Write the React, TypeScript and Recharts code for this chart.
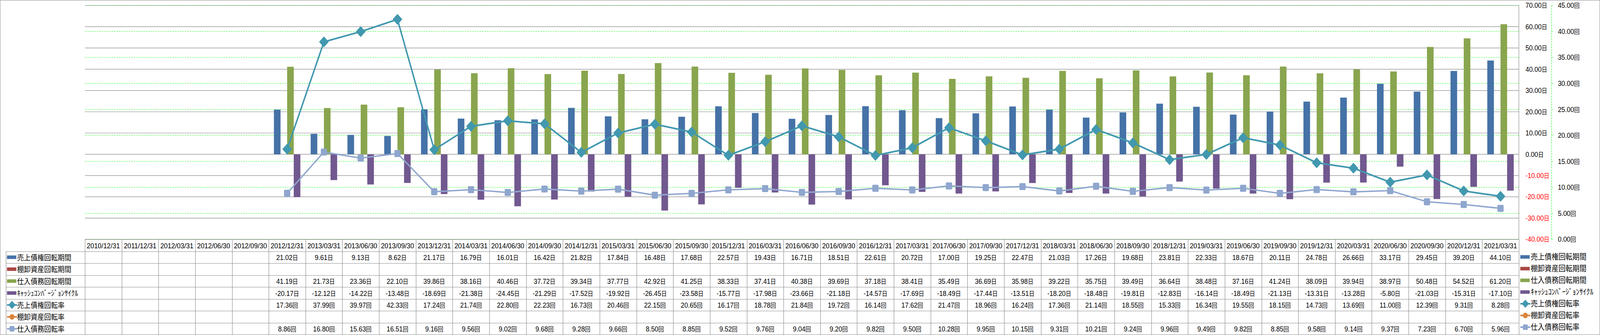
import React from 'react';
import { ComposedChart, Bar, Line, XAxis, YAxis, CartesianGrid, Legend } from 'recharts';

const DATES = [
  '2010/12/31', '2011/12/31', '2012/03/31', '2012/06/30', '2012/09/30', '2012/12/31',
  '2013/03/31', '2013/06/30', '2013/09/30', '2013/12/31',
  '2014/03/31', '2014/06/30', '2014/09/30', '2014/12/31',
  '2015/03/31', '2015/06/30', '2015/09/30', '2015/12/31',
  '2016/03/31', '2016/06/30', '2016/09/30', '2016/12/31',
  '2017/03/31', '2017/06/30', '2017/09/30', '2017/12/31',
  '2018/03/31', '2018/06/30', '2018/09/30', '2018/12/31',
  '2019/03/31', '2019/06/30', '2019/09/30', '2019/12/31',
  '2020/03/31', '2020/06/30', '2020/09/30', '2020/12/31',
  '2021/03/31',
];

const N = null;

const RECEIVABLE_DAYS = [
  N, N, N, N, N, 21.02,
  9.61, 9.13, 8.62, 21.17,
  16.79, 16.01, 16.42, 21.82,
  17.84, 16.48, 17.68, 22.57,
  19.43, 16.71, 18.51, 22.61,
  20.72, 17.0, 19.25, 22.47,
  21.03, 17.26, 19.68, 23.81,
  22.33, 18.67, 20.11, 24.78,
  26.66, 33.17, 29.45, 39.2,
  44.1,
];

const INVENTORY_DAYS: (number | null)[] = DATES.map(() => null);

const PAYABLE_DAYS = [
  N, N, N, N, N, 41.19,
  21.73, 23.36, 22.1, 39.86,
  38.16, 40.46, 37.72, 39.34,
  37.77, 42.92, 41.25, 38.33,
  37.41, 40.38, 39.69, 37.18,
  38.41, 35.49, 36.69, 35.98,
  39.22, 35.75, 39.49, 36.64,
  38.48, 37.16, 41.24, 38.09,
  39.94, 38.97, 50.48, 54.52,
  61.2,
];

const CCC_DAYS = [
  N, N, N, N, N, -20.17,
  -12.12, -14.22, -13.48, -18.69,
  -21.38, -24.45, -21.29, -17.52,
  -19.92, -26.45, -23.58, -15.77,
  -17.98, -23.66, -21.18, -14.57,
  -17.69, -18.49, -17.44, -13.51,
  -18.2, -18.48, -19.81, -12.83,
  -16.14, -18.49, -21.13, -13.31,
  -13.28, -5.8, -21.03, -15.31,
  -17.1,
];

const RECEIVABLE_TURNOVER = [
  N, N, N, N, N, 17.36,
  37.99, 39.97, 42.33, 17.24,
  21.74, 22.8, 22.23, 16.73,
  20.46, 22.15, 20.65, 16.17,
  18.78, 21.84, 19.72, 16.14,
  17.62, 21.47, 18.96, 16.24,
  17.36, 21.14, 18.55, 15.33,
  16.34, 19.55, 18.15, 14.73,
  13.69, 11.0, 12.39, 9.31,
  8.28,
];

const INVENTORY_TURNOVER: (number | null)[] = DATES.map(() => null);

const PAYABLE_TURNOVER = [
  N, N, N, N, N, 8.86,
  16.8, 15.63, 16.51, 9.16,
  9.56, 9.02, 9.68, 9.28,
  9.66, 8.5, 8.85, 9.52,
  9.76, 9.04, 9.2, 9.82,
  9.5, 10.28, 9.95, 10.15,
  9.31, 10.21, 9.24, 9.96,
  9.49, 9.82, 8.85, 9.58,
  9.14, 9.37, 7.23, 6.7,
  5.96,
];

const DAY_TICKS = [-40, -30, -20, -10, 0, 10, 20, 30, 40, 50, 60, 70];
const RATE_TICKS = [0, 5, 10, 15, 20, 25, 30, 35, 40, 45];

type Series = {
  key: string;
  name: string;
  kind: 'bar' | 'line';
  marker?: 'diamond' | 'circle' | 'square';
  color: string;
  unit: string;
  values: (number | null)[];
};

const SERIES: Series[] = [
  { key: 'arDays', name: '売上債権回転期間', kind: 'bar', color: '#4572A7', unit: '日', values: RECEIVABLE_DAYS },
  { key: 'invDays', name: '棚卸資産回転期間', kind: 'bar', color: '#AA4643', unit: '日', values: INVENTORY_DAYS },
  { key: 'apDays', name: '仕入債務回転期間', kind: 'bar', color: '#89A54E', unit: '日', values: PAYABLE_DAYS },
  { key: 'ccc', name: 'ｷｬｯｼｭｺﾝﾊﾞｰｼﾞｮﾝｻｲｸﾙ', kind: 'bar', color: '#71588F', unit: '日', values: CCC_DAYS },
  { key: 'arRate', name: '売上債権回転率', kind: 'line', marker: 'diamond', color: '#4198AF', unit: '回', values: RECEIVABLE_TURNOVER },
  { key: 'invRate', name: '棚卸資産回転率', kind: 'line', marker: 'circle', color: '#DB843D', unit: '回', values: INVENTORY_TURNOVER },
  { key: 'apRate', name: '仕入債務回転率', kind: 'line', marker: 'square', color: '#8FA6CE', unit: '回', values: PAYABLE_TURNOVER },
];

const DATA = DATES.map((date, i) => {
  const row: Record<string, any> = { date };
  SERIES.forEach((s) => {
    row[s.key] = s.values[i];
  });
  return row;
});

const FONT = "'Liberation Sans', 'Noto Sans CJK JP', sans-serif";
const GRID = '#868686';
const ROW_H = 30.55;
const LEGEND_COL_W = 227.5;

const px = (v: number) => Math.round(v) + 0.5;

function MarkerShape({ shape, cx, cy, color, size }: { shape?: string; cx: number; cy: number; color: string; size: number }) {
  if (shape === 'diamond') {
    const h = size;
    return (
      <polygon
        points={`${cx},${cy - h} ${cx + h},${cy} ${cx},${cy + h} ${cx - h},${cy}`}
        fill={color}
        stroke={color}
        strokeWidth={2}
        strokeLinejoin="round"
      />
    );
  }
  if (shape === 'circle') {
    return <circle cx={cx} cy={cy} r={size * 0.8} fill={color} />;
  }
  const s = size * 0.78;
  return <rect x={cx - s} y={cy - s} width={s * 2} height={s * 2} rx={3} ry={3} fill={color} />;
}

function LegendIcon({ s, x, y }: { s: Series; x: number; y: number }) {
  if (s.kind === 'bar') {
    return <rect x={x} y={y - 4.5} width={27} height={9} fill={s.color} />;
  }
  return (
    <g>
      <line x1={x} x2={x + 29} y1={y} y2={y} stroke={s.color} strokeWidth={4} />
      <MarkerShape shape={s.marker} cx={x + 14.5} cy={y} color={s.color} size={9} />
    </g>
  );
}

const makeDot = (s: Series, size: number) => (p: any) => {
  const { cx, cy, index } = p;
  if (typeof cx !== 'number' || typeof cy !== 'number' || isNaN(cy) || p.value == null) {
    return <g key={`dot-${s.key}-${index}`} />;
  }
  return (
    <g key={`dot-${s.key}-${index}`}>
      <MarkerShape shape={s.marker} cx={cx} cy={cy} color={s.color} size={size} />
    </g>
  );
};

function TableTick(props: any) {
  const { x, y, payload, width, visibleTicksCount } = props;
  const i: number = payload?.index ?? props.index ?? 0;
  const half =
    typeof payload?.offset === 'number' && payload.offset > 0 ? payload.offset : width / visibleTicksCount / 2;
  const left = x - half;
  const right = x + half;
  const top = y;
  const rows = SERIES.length;
  const bottom = top + (rows + 1) * ROW_H;
  const els: React.ReactNode[] = [];

  for (let k = 0; k <= rows + 1; k++) {
    const yy = px(top + k * ROW_H);
    els.push(<line key={`h${k}`} x1={left} x2={right} y1={yy} y2={yy} stroke={GRID} strokeWidth={1} />);
  }
  els.push(<line key="vr" x1={px(right)} x2={px(right)} y1={px(top)} y2={px(bottom)} stroke={GRID} strokeWidth={1.2} />);
  if (i === 0) {
    els.push(<line key="vl" x1={px(left)} x2={px(left)} y1={px(top)} y2={px(bottom)} stroke={GRID} strokeWidth={1.2} />);
    const colLeft = left - LEGEND_COL_W;
    for (let k = 1; k <= rows + 1; k++) {
      const yy = px(top + k * ROW_H);
      els.push(<line key={`lh${k}`} x1={colLeft} x2={left} y1={yy} y2={yy} stroke={GRID} strokeWidth={1} />);
    }
    els.push(
      <line key="lv" x1={px(colLeft)} x2={px(colLeft)} y1={px(top + ROW_H)} y2={px(bottom)} stroke={GRID} strokeWidth={1.2} />
    );
    SERIES.forEach((s, r) => {
      const cy = top + (r + 1.5) * ROW_H;
      els.push(
        <g key={`lg${r}`}>
          <LegendIcon s={s} x={colLeft + 3.5} y={cy} />
          <text x={colLeft + 32.5} y={cy + 1} dominantBaseline="central" fontFamily={FONT} fontSize={19.5} fill="#000">
            {s.name}
          </text>
        </g>
      );
    });
  }

  els.push(
    <text key="hd" x={x} y={top + ROW_H / 2 + 1} textAnchor="middle" dominantBaseline="central" fontFamily={FONT} fontSize={19} fill="#000">
      {payload.value}
    </text>
  );

  SERIES.forEach((s, r) => {
    const v = s.values[i];
    if (v == null) return;
    const cy = top + (r + 1.5) * ROW_H + 1;
    els.push(
      <text key={`v${r}`} x={x} y={cy} textAnchor="middle" dominantBaseline="central" fontFamily={FONT} fontSize={18.5} fill="#000">
        {v.toFixed(2)}
        <tspan fontSize={16}>{s.unit}</tspan>
      </text>
    );
  });

  return <g>{els}</g>;
}

function DayTick(props: any) {
  const { x, y, payload } = props;
  const v: number = payload.value;
  return (
    <text x={x + 19} y={y} textAnchor="start" dominantBaseline="central" fontFamily={FONT} fontSize={18.5} fill={v < 0 ? '#FF0000' : '#000'}>
      {v.toFixed(2)}
      <tspan fontSize={16}>日</tspan>
    </text>
  );
}

function RateTick(props: any) {
  const { x, y, payload } = props;
  const v: number = payload.value;
  return (
    <text x={x} y={y} textAnchor="start" dominantBaseline="central" fontFamily={FONT} fontSize={18.5} fill="#000">
      {v.toFixed(2)}
      <tspan fontSize={16}>回</tspan>
    </text>
  );
}

const renderLegend = () => (
  <div style={{ fontFamily: FONT, fontSize: 20, lineHeight: '30px' }}>
    {SERIES.map((s) => (
      <div key={s.key} style={{ height: 30, display: 'flex', alignItems: 'center', whiteSpace: 'nowrap' }}>
        <svg width={31} height={30} style={{ display: 'block' }}>
          <LegendIcon s={s} x={1} y={15} />
        </svg>
        <span style={{ color: '#000' }}>{s.name}</span>
      </div>
    ))}
  </div>
);

const W = 4597;
const H = 858;

export default function App() {
  const getScale = () => (typeof window !== 'undefined' && window.innerWidth > 0 ? Math.min(1, window.innerWidth / W) : 1);
  const [sx, setSx] = React.useState<number>(getScale);
  React.useEffect(() => {
    const f = () => setSx(getScale());
    window.addEventListener('resize', f);
    return () => window.removeEventListener('resize', f);
  }, []);

  return (
    <div style={{ position: 'relative', width: Math.floor(W * sx), height: H, background: '#fff', overflow: 'hidden' }}>
      <style>{`html,body{margin:0;padding:0;background:#fff;overflow:hidden;}`}</style>
      <div
        style={{
          position: 'absolute',
          left: 0,
          top: 0,
          width: W,
          height: H,
          transform: `scale(${sx}, 1)`,
          transformOrigin: '0 0',
        }}
      >
        <ComposedChart
          width={W}
          height={H}
          data={DATA}
          margin={{ top: 14, right: 29, bottom: 0, left: 244 }}
          barCategoryGap="14%"
          barGap={0}
        >
          <CartesianGrid yAxisId="rate" vertical={false} stroke="#00FF00" strokeDasharray="4 3" />
          <CartesianGrid yAxisId="days" vertical={false} stroke={GRID} strokeWidth={1.2} />
          <XAxis
            dataKey="date"
            interval={0}
            height={245}
            tickLine={false}
            axisLine={false}
            tickSize={0}
            tickMargin={0}
            tick={<TableTick />}
          />
          <YAxis
            yAxisId="days"
            orientation="right"
            width={94}
            domain={[-40, 70]}
            ticks={DAY_TICKS}
            interval={0}
            allowDataOverflow
            axisLine={{ stroke: GRID, strokeWidth: 1.2 }}
            tickLine={false}
            tickSize={0}
            tickMargin={0}
            tick={<DayTick />}
          />
          <YAxis
            yAxisId="rate"
            orientation="right"
            width={110}
            domain={[0, 45]}
            ticks={RATE_TICKS}
            interval={0}
            allowDataOverflow
            axisLine={{ stroke: '#00FF00', strokeDasharray: '4 3', strokeWidth: 1.2 }}
            tickLine={{ stroke: '#00FF00' }}
            tickSize={4}
            tickMargin={14}
            tick={<RateTick />}
          />
          {SERIES.filter((s) => s.kind === 'bar').map((s) => (
            <Bar key={s.key} yAxisId="days" dataKey={s.key} name={s.name} fill={s.color} isAnimationActive={false} />
          ))}
          {SERIES.filter((s) => s.kind === 'line').map((s) => (
            <Line
              key={s.key}
              yAxisId="rate"
              dataKey={s.key}
              name={s.name}
              stroke={s.color}
              strokeWidth={s.marker === 'diamond' ? 4.2 : 3.6}
              dot={makeDot(s, s.marker === 'diamond' ? 12.5 : 11.5)}
              activeDot={false}
              isAnimationActive={false}
            />
          ))}
          <Legend
            layout="vertical"
            align="center"
            verticalAlign="middle"
            content={renderLegend}
            wrapperStyle={{ left: 4367, top: 643, width: 228, height: 214 }}
          />
        </ComposedChart>
        <div
          style={{
            position: 'absolute',
            left: 0,
            top: 0,
            width: W,
            height: H,
            boxSizing: 'border-box',
            border: `1px solid ${GRID}`,
            pointerEvents: 'none',
          }}
        />
      </div>
    </div>
  );
}
